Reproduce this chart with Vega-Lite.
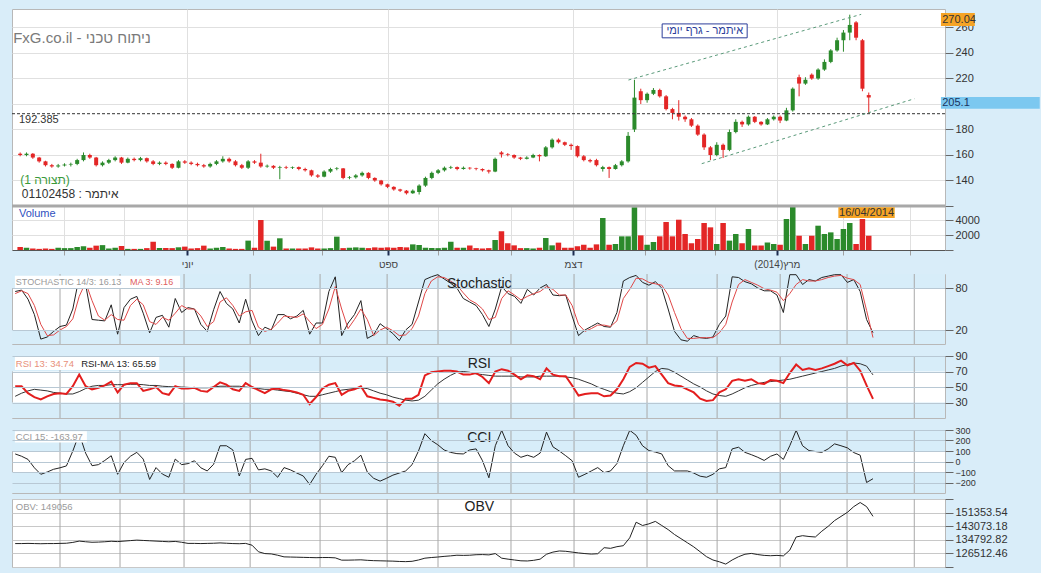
{
"$schema":"https://vega.github.io/schema/vega-lite/v6.json",
"background":"#d9edf9",
"padding":{"left":10,"top":8,"right":0,"bottom":0},
"config":{"font":"Liberation Sans","view":{"stroke":"#b8b8b8","fill":"white"},
"axis":{"labelFont":"Liberation Sans","labelFontSize":11,"labelColor":"#333","tickColor":"#666","tickSize":8,"labelPadding":2,"domain":false,"title":null,"gridColor":"#e0e0e0","labelOverlap":false,"labelFlush":false,"labelBound":false}},
"datasets":{
"mo":[{"d":15},{"d":33.75},{"d":53.75},{"d":74.4},{"d":96.25},{"d":117.2},{"d":133.1},{"d":155.9},{"d":175.6},{"d":198.4},{"d":220.3},{"d":240},{"d":260.9},{"d":281.9}],
"tr":[{"g":"u","d":193.1,"p":218.8},{"g":"u","d":266.6,"p":270.3},{"g":"l","d":216.25,"p":153.2},{"g":"l","d":283.4,"p":204.1}],
"m":[
{"d":1,"o":161,"h":162,"l":159,"c":160,"v":400,"k":75,"kd":72,"rsi":51,"rm":38,"cci":72,"obv":132500},
{"d":3,"o":160,"h":162,"l":159,"c":161,"v":300,"k":77,"kd":76,"rsi":51,"rm":42,"cci":50,"obv":132500},
{"d":5,"o":161,"h":161.5,"l":157,"c":158,"v":200,"k":64,"kd":72,"rsi":42,"rm":45,"cci":20,"obv":132600},
{"d":7,"o":158,"h":158.5,"l":154,"c":155,"v":150,"k":42,"kd":55,"rsi":37,"rm":47,"cci":-60,"obv":132500},
{"d":9,"o":155,"h":155.5,"l":151,"c":152,"v":200,"k":7,"kd":28,"rsi":34,"rm":46,"cci":-122,"obv":132400},
{"d":11,"o":152,"h":153,"l":150,"c":151,"v":150,"k":10,"kd":12,"rsi":38,"rm":45,"cci":-100,"obv":132500},
{"d":13,"o":151,"h":153,"l":150,"c":151.8,"v":300,"k":18,"kd":13,"rsi":41,"rm":43,"cci":-74,"obv":132500},
{"d":15,"o":151.8,"h":153.5,"l":151,"c":152.5,"v":250,"k":25,"kd":20,"rsi":42,"rm":42,"cci":-60,"obv":132600},
{"d":17,"o":152.5,"h":154,"l":151,"c":153,"v":250,"k":27,"kd":25,"rsi":41,"rm":41,"cci":-42,"obv":132700},
{"d":19,"o":153,"h":157,"l":152,"c":156,"v":400,"k":50,"kd":36,"rsi":51,"rm":41,"cci":100,"obv":133200},
{"d":21,"o":156,"h":162,"l":155,"c":160,"v":500,"k":96,"kd":68,"rsi":66,"rm":44,"cci":265,"obv":134000},
{"d":23,"o":160,"h":161,"l":157,"c":158,"v":300,"k":85,"kd":88,"rsi":51,"rm":48,"cci":80,"obv":133600},
{"d":25,"o":158,"h":158.5,"l":151,"c":152,"v":580,"k":35,"kd":62,"rsi":47,"rm":51,"cci":-40,"obv":133300},
{"d":27,"o":152,"h":155,"l":151,"c":154,"v":650,"k":34,"kd":40,"rsi":49,"rm":52,"cci":-30,"obv":133400},
{"d":29,"o":154,"h":157,"l":153,"c":156,"v":200,"k":33,"kd":34,"rsi":52,"rm":52,"cci":10,"obv":133600},
{"d":31,"o":156,"h":159,"l":155,"c":158,"v":300,"k":56,"kd":42,"rsi":57,"rm":53,"cci":55,"obv":133900},
{"d":33,"o":158,"h":158.5,"l":153,"c":154,"v":530,"k":14,"kd":35,"rsi":43,"rm":53,"cci":-122,"obv":133700},
{"d":35,"o":154,"h":158,"l":153.5,"c":157,"v":150,"k":52,"kd":34,"rsi":53,"rm":53,"cci":-10,"obv":134000},
{"d":37,"o":157,"h":158,"l":155,"c":156,"v":150,"k":64,"kd":55,"rsi":55,"rm":53.5,"cci":50,"obv":134300},
{"d":39,"o":156,"h":158.5,"l":155,"c":157.5,"v":150,"k":68,"kd":64,"rsi":55,"rm":53.5,"cci":87,"obv":134600},
{"d":41,"o":157.5,"h":158,"l":154,"c":155,"v":250,"k":44,"kd":56,"rsi":45,"rm":53,"cci":23,"obv":134400},
{"d":43,"o":155,"h":156,"l":152,"c":153,"v":1100,"k":16,"kd":32,"rsi":47,"rm":52,"cci":-171,"obv":134200},
{"d":45,"o":153,"h":155,"l":152,"c":154,"v":270,"k":38,"kd":28,"rsi":50,"rm":52,"cci":-58,"obv":134000},
{"d":47,"o":154,"h":155,"l":152,"c":153,"v":270,"k":41,"kd":38,"rsi":42,"rm":51,"cci":-120,"obv":133800},
{"d":49,"o":153,"h":153.5,"l":149,"c":150,"v":250,"k":24,"kd":34,"rsi":40,"rm":50.5,"cci":-150,"obv":133600},
{"d":51,"o":150,"h":156,"l":149.5,"c":155,"v":360,"k":65,"kd":44,"rsi":51,"rm":50,"cci":23,"obv":133800},
{"d":53,"o":155,"h":156,"l":153,"c":154,"v":450,"k":45,"kd":55,"rsi":48,"rm":50,"cci":-30,"obv":133300},
{"d":55,"o":154,"h":155,"l":152,"c":153,"v":200,"k":52,"kd":50,"rsi":48,"rm":49.5,"cci":-20,"obv":132600},
{"d":57,"o":153,"h":154,"l":151,"c":152,"v":250,"k":50,"kd":50,"rsi":49,"rm":49,"cci":7,"obv":132600},
{"d":59,"o":152,"h":153,"l":150,"c":151,"v":580,"k":28,"kd":40,"rsi":45,"rm":49,"cci":-60,"obv":132500},
{"d":61,"o":151,"h":154,"l":150,"c":153,"v":200,"k":18,"kd":25,"rsi":44,"rm":49,"cci":-90,"obv":132600},
{"d":63,"o":153,"h":156,"l":152,"c":155,"v":300,"k":49,"kd":32,"rsi":50,"rm":50,"cci":-26,"obv":132700},
{"d":65,"o":155,"h":159,"l":154,"c":157,"v":400,"k":75,"kd":60,"rsi":56,"rm":51,"cci":150,"obv":132900},
{"d":67,"o":157,"h":158,"l":154,"c":155,"v":200,"k":58,"kd":66,"rsi":53,"rm":51,"cci":150,"obv":132700},
{"d":69,"o":155,"h":156,"l":151,"c":152,"v":150,"k":50,"kd":55,"rsi":47,"rm":51,"cci":110,"obv":132500},
{"d":71,"o":152,"h":153,"l":149,"c":150,"v":150,"k":30,"kd":40,"rsi":45,"rm":51,"cci":-138,"obv":132400},
{"d":73,"o":150,"h":156,"l":149,"c":155,"v":1250,"k":64,"kd":46,"rsi":55,"rm":50,"cci":20,"obv":132600},
{"d":75,"o":155,"h":156,"l":153,"c":154,"v":300,"k":33,"kd":48,"rsi":50,"rm":49,"cci":30,"obv":131500},
{"d":77,"o":154,"h":161,"l":150,"c":151,"v":4000,"k":12,"kd":24,"rsi":46,"rm":48,"cci":-80,"obv":127500},
{"d":79,"o":151,"h":152.5,"l":150,"c":151.5,"v":1250,"k":24,"kd":18,"rsi":42,"rm":47,"cci":-70,"obv":126400},
{"d":81,"o":151.5,"h":152,"l":149,"c":150,"v":450,"k":20,"kd":21,"rsi":47,"rm":47,"cci":-90,"obv":126200},
{"d":83,"o":150,"h":151.5,"l":141,"c":150.5,"v":1560,"k":42,"kd":30,"rsi":48,"rm":46,"cci":-150,"obv":125400},
{"d":85,"o":150.5,"h":151.5,"l":149,"c":150,"v":200,"k":42,"kd":40,"rsi":46,"rm":45,"cci":-58,"obv":124400},
{"d":87,"o":150,"h":151,"l":149,"c":150.5,"v":200,"k":36,"kd":39,"rsi":45,"rm":44,"cci":-80,"obv":124300},
{"d":89,"o":150.5,"h":151,"l":148,"c":149,"v":200,"k":40,"kd":38,"rsi":43,"rm":42,"cci":-110,"obv":124200},
{"d":91,"o":149,"h":150,"l":147,"c":148,"v":200,"k":48,"kd":43,"rsi":40,"rm":40,"cci":-138,"obv":124100},
{"d":93,"o":148,"h":148.5,"l":143,"c":144,"v":350,"k":14,"kd":32,"rsi":28,"rm":38,"cci":-219,"obv":124000},
{"d":95,"o":144,"h":145,"l":142,"c":143,"v":200,"k":30,"kd":22,"rsi":37,"rm":38,"cci":-122,"obv":123900},
{"d":97,"o":143,"h":148,"l":142.5,"c":147,"v":200,"k":30,"kd":28,"rsi":48,"rm":40,"cci":-40,"obv":124000},
{"d":99,"o":147,"h":150,"l":146,"c":149,"v":250,"k":75,"kd":50,"rsi":53,"rm":42,"cci":50,"obv":124000},
{"d":101,"o":149,"h":150.5,"l":148,"c":149.5,"v":1780,"k":96,"kd":82,"rsi":55,"rm":44,"cci":40,"obv":123800},
{"d":103,"o":149.5,"h":149.8,"l":141,"c":142,"v":250,"k":12,"kd":50,"rsi":40,"rm":46,"cci":-106,"obv":122400},
{"d":105,"o":142,"h":143.5,"l":141,"c":142.5,"v":300,"k":30,"kd":22,"rsi":45,"rm":47,"cci":-30,"obv":122400},
{"d":107,"o":142.5,"h":145,"l":141.5,"c":144,"v":350,"k":42,"kd":35,"rsi":47,"rm":48,"cci":7,"obv":122500},
{"d":109,"o":144,"h":147,"l":143,"c":146,"v":300,"k":62,"kd":50,"rsi":51,"rm":49,"cci":60,"obv":122600},
{"d":111,"o":146,"h":146.5,"l":141,"c":142,"v":250,"k":8,"kd":35,"rsi":38,"rm":48,"cci":-100,"obv":122300},
{"d":113,"o":142,"h":142.5,"l":139,"c":140,"v":350,"k":13,"kd":12,"rsi":36,"rm":45,"cci":-160,"obv":122100},
{"d":115,"o":140,"h":140.5,"l":136,"c":137,"v":300,"k":29,"kd":20,"rsi":34,"rm":42,"cci":-187,"obv":122000},
{"d":117,"o":137,"h":137.5,"l":134,"c":135,"v":350,"k":22,"kd":24,"rsi":33,"rm":40,"cci":-160,"obv":121900},
{"d":119,"o":135,"h":135.5,"l":132,"c":133,"v":300,"k":15,"kd":19,"rsi":31,"rm":37,"cci":-130,"obv":121800},
{"d":121,"o":133,"h":133.5,"l":131,"c":132,"v":400,"k":5,"kd":12,"rsi":26,"rm":35,"cci":-110,"obv":121600},
{"d":123,"o":132,"h":132.5,"l":129,"c":130,"v":350,"k":20,"kd":13,"rsi":35,"rm":33,"cci":-90,"obv":121500},
{"d":125,"o":130,"h":133,"l":129.5,"c":132,"v":750,"k":28,"kd":22,"rsi":35,"rm":32,"cci":-30,"obv":121700},
{"d":127,"o":131,"h":137,"l":129,"c":136,"v":670,"k":60,"kd":40,"rsi":40,"rm":33,"cci":100,"obv":122500},
{"d":129,"o":136,"h":143,"l":135,"c":142,"v":300,"k":92,"kd":72,"rsi":65,"rm":38,"cci":265,"obv":123600},
{"d":131,"o":142,"h":147,"l":141,"c":146,"v":270,"k":96,"kd":90,"rsi":69,"rm":46,"cci":200,"obv":124000},
{"d":133,"o":146,"h":149,"l":145,"c":148,"v":250,"k":99,"kd":96,"rsi":70,"rm":54,"cci":160,"obv":124300},
{"d":135,"o":148,"h":151,"l":147,"c":150,"v":300,"k":93,"kd":95,"rsi":71,"rm":60,"cci":110,"obv":124700},
{"d":137,"o":150,"h":151.5,"l":149,"c":150.5,"v":1100,"k":87,"kd":90,"rsi":71,"rm":65,"cci":87,"obv":125000},
{"d":139,"o":150.5,"h":151,"l":148,"c":149,"v":300,"k":80,"kd":84,"rsi":70,"rm":69,"cci":75,"obv":125400},
{"d":141,"o":149,"h":151,"l":148.5,"c":150,"v":300,"k":65,"kd":73,"rsi":66,"rm":70,"cci":72,"obv":125300},
{"d":143,"o":150,"h":150.5,"l":148.5,"c":149.5,"v":600,"k":60,"kd":63,"rsi":66,"rm":69,"cci":110,"obv":125400},
{"d":145,"o":149.5,"h":150,"l":148,"c":149,"v":250,"k":55,"kd":58,"rsi":68,"rm":67,"cci":120,"obv":125700},
{"d":147,"o":149,"h":149.5,"l":147,"c":148,"v":200,"k":42,"kd":50,"rsi":63,"rm":66,"cci":7,"obv":125800},
{"d":149,"o":148,"h":148.5,"l":145.5,"c":147,"v":250,"k":25,"kd":35,"rsi":55,"rm":65,"cci":-155,"obv":125600},
{"d":151,"o":147,"h":158,"l":146.5,"c":157,"v":1330,"k":50,"kd":38,"rsi":70,"rm":64,"cci":150,"obv":126400},
{"d":153,"o":162,"h":163,"l":158,"c":160.5,"v":2500,"k":82,"kd":65,"rsi":73,"rm":64,"cci":297,"obv":123600},
{"d":155,"o":160.5,"h":161.5,"l":159,"c":160,"v":900,"k":72,"kd":76,"rsi":71,"rm":64,"cci":150,"obv":123000},
{"d":157,"o":160,"h":160.5,"l":157,"c":158,"v":620,"k":68,"kd":70,"rsi":66,"rm":64,"cci":80,"obv":122500},
{"d":159,"o":158,"h":158.5,"l":156,"c":157,"v":250,"k":58,"kd":63,"rsi":60,"rm":63,"cci":40,"obv":122000},
{"d":161,"o":157,"h":159,"l":156.5,"c":158,"v":250,"k":78,"kd":68,"rsi":65,"rm":63,"cci":60,"obv":121900},
{"d":163,"o":158,"h":161,"l":157.5,"c":160,"v":200,"k":70,"kd":72,"rsi":64,"rm":63,"cci":40,"obv":122300},
{"d":165,"o":160,"h":160.5,"l":155,"c":159,"v":300,"k":80,"kd":75,"rsi":60,"rm":64,"cci":80,"obv":123000},
{"d":167,"o":159,"h":167,"l":158.5,"c":166,"v":1600,"k":85,"kd":82,"rsi":74,"rm":64,"cci":280,"obv":126000},
{"d":169,"o":166,"h":173,"l":165,"c":172,"v":620,"k":70,"kd":78,"rsi":66,"rm":64,"cci":140,"obv":127300},
{"d":171,"o":172,"h":173,"l":169,"c":170,"v":980,"k":69,"kd":70,"rsi":64,"rm":64,"cci":100,"obv":128000},
{"d":173,"o":170,"h":170.5,"l":167,"c":168,"v":300,"k":70,"kd":70,"rsi":64,"rm":63,"cci":55,"obv":127800},
{"d":175,"o":168,"h":169,"l":164,"c":167,"v":300,"k":40,"kd":55,"rsi":52,"rm":62,"cci":7,"obv":127300},
{"d":177,"o":167,"h":167.5,"l":158,"c":159,"v":500,"k":12,"kd":28,"rsi":39,"rm":60,"cci":-150,"obv":126800},
{"d":179,"o":159,"h":160,"l":155,"c":156,"v":700,"k":20,"kd":18,"rsi":41,"rm":57,"cci":-122,"obv":126400},
{"d":181,"o":156,"h":157,"l":154,"c":155,"v":300,"k":25,"kd":22,"rsi":42,"rm":54,"cci":-90,"obv":126100},
{"d":183,"o":156,"h":157,"l":151,"c":152,"v":750,"k":30,"kd":27,"rsi":42,"rm":50,"cci":-58,"obv":126300},
{"d":185,"o":149,"h":151.5,"l":147,"c":150.5,"v":4270,"k":25,"kd":27,"rsi":38,"rm":47,"cci":-106,"obv":130000},
{"d":187,"o":150.5,"h":151,"l":142,"c":149,"v":700,"k":24,"kd":25,"rsi":39,"rm":44,"cci":-90,"obv":129600},
{"d":189,"o":149,"h":153,"l":148.5,"c":152,"v":800,"k":45,"kd":33,"rsi":47,"rm":42,"cci":-20,"obv":130600},
{"d":191,"o":152,"h":156,"l":151,"c":155,"v":1820,"k":90,"kd":65,"rsi":60,"rm":41,"cci":150,"obv":131200},
{"d":193,"o":155,"h":178,"l":154,"c":175,"v":1820,"k":95,"kd":78,"rsi":76,"rm":44,"cci":297,"obv":136000},
{"d":195,"o":180,"h":219,"l":178,"c":205,"v":5700,"k":98,"kd":94,"rsi":81,"rm":49,"cci":250,"obv":145500},
{"d":197,"o":210,"h":212,"l":200,"c":203,"v":1950,"k":88,"kd":93,"rsi":80,"rm":56,"cci":150,"obv":143500},
{"d":199,"o":203,"h":209,"l":201,"c":208,"v":700,"k":84,"kd":88,"rsi":75,"rm":63,"cci":104,"obv":144500},
{"d":201,"o":208,"h":212.5,"l":207,"c":211,"v":1070,"k":89,"kd":86,"rsi":77,"rm":70,"cci":90,"obv":146000},
{"d":203,"o":211,"h":212,"l":205,"c":206,"v":1820,"k":80,"kd":84,"rsi":66,"rm":74,"cci":72,"obv":143500},
{"d":205,"o":206,"h":207,"l":195,"c":196,"v":3730,"k":50,"kd":70,"rsi":55,"rm":73,"cci":-40,"obv":141000},
{"d":207,"o":196,"h":197,"l":188,"c":193,"v":1820,"k":18,"kd":45,"rsi":52,"rm":69,"cci":-90,"obv":138000},
{"d":209,"o":193,"h":203,"l":187,"c":190,"v":4040,"k":6,"kd":22,"rsi":51,"rm":64,"cci":-90,"obv":135500},
{"d":211,"o":190,"h":191,"l":186,"c":188,"v":2130,"k":4,"kd":8,"rsi":47,"rm":59,"cci":-90,"obv":133000},
{"d":213,"o":188,"h":189,"l":182,"c":183,"v":900,"k":12,"kd":8,"rsi":43,"rm":54,"cci":-110,"obv":130500},
{"d":215,"o":183,"h":184,"l":175,"c":176,"v":1470,"k":9,"kd":9,"rsi":35,"rm":50,"cci":-140,"obv":127500},
{"d":217,"o":176,"h":177,"l":164,"c":166,"v":3600,"k":8,"kd":9,"rsi":32,"rm":45,"cci":-150,"obv":124500},
{"d":219,"o":166,"h":167,"l":156,"c":160,"v":3020,"k":10,"kd":9,"rsi":33,"rm":41,"cci":-122,"obv":122500},
{"d":221,"o":160,"h":170,"l":159,"c":168,"v":800,"k":28,"kd":16,"rsi":43,"rm":39,"cci":-70,"obv":121400},
{"d":223,"o":168,"h":169,"l":157.6,"c":164,"v":3600,"k":40,"kd":28,"rsi":47,"rm":38,"cci":-58,"obv":120000},
{"d":225,"o":164,"h":180,"l":163,"c":178,"v":1250,"k":96,"kd":60,"rsi":58,"rm":41,"cci":120,"obv":122500},
{"d":227,"o":178,"h":188,"l":177,"c":186,"v":2130,"k":95,"kd":85,"rsi":60,"rm":45,"cci":136,"obv":124500},
{"d":229,"o":186,"h":187,"l":182,"c":184,"v":900,"k":89,"kd":92,"rsi":58,"rm":49,"cci":87,"obv":126000},
{"d":231,"o":184,"h":191,"l":183,"c":190,"v":2800,"k":86,"kd":88,"rsi":60,"rm":52,"cci":65,"obv":126500},
{"d":233,"o":190,"h":190.5,"l":185,"c":186,"v":600,"k":80,"kd":84,"rsi":55,"rm":54,"cci":40,"obv":125800},
{"d":235,"o":186,"h":186.5,"l":183,"c":184,"v":600,"k":76,"kd":79,"rsi":54,"rm":56,"cci":10,"obv":125300},
{"d":237,"o":184,"h":189,"l":183.5,"c":188,"v":1000,"k":76,"kd":77,"rsi":59,"rm":57,"cci":50,"obv":125100},
{"d":239,"o":188,"h":191,"l":187,"c":190,"v":800,"k":70,"kd":74,"rsi":58,"rm":58,"cci":72,"obv":125300},
{"d":241,"o":190,"h":191,"l":185,"c":187,"v":700,"k":45,"kd":62,"rsi":55,"rm":59,"cci":20,"obv":125000},
{"d":243,"o":187,"h":197,"l":186.5,"c":195,"v":4130,"k":99,"kd":72,"rsi":68,"rm":60,"cci":150,"obv":128500},
{"d":245,"o":195,"h":213,"l":194,"c":212,"v":5780,"k":99,"kd":85,"rsi":79,"rm":62,"cci":297,"obv":136500},
{"d":247,"o":221,"h":223,"l":206,"c":216,"v":1900,"k":85,"kd":92,"rsi":72,"rm":64,"cci":150,"obv":137300},
{"d":249,"o":216,"h":221,"l":215,"c":219,"v":800,"k":92,"kd":90,"rsi":74,"rm":66,"cci":104,"obv":136800},
{"d":251,"o":223,"h":224,"l":219,"c":220,"v":1900,"k":90,"kd":90,"rsi":72,"rm":68,"cci":95,"obv":136500},
{"d":253,"o":220,"h":228,"l":219,"c":227,"v":3240,"k":95,"kd":92,"rsi":74,"rm":70,"cci":87,"obv":140000},
{"d":255,"o":227,"h":235,"l":226,"c":233,"v":2130,"k":97,"kd":95,"rsi":77,"rm":72,"cci":120,"obv":143000},
{"d":257,"o":233,"h":243,"l":232,"c":242,"v":2350,"k":99,"kd":97,"rsi":80,"rm":74,"cci":168,"obv":146500},
{"d":259,"o":242,"h":252,"l":241,"c":250,"v":1470,"k":99,"kd":98,"rsi":84,"rm":77,"cci":150,"obv":149000},
{"d":261,"o":250,"h":258,"l":241,"c":256,"v":2800,"k":88,"kd":94,"rsi":78,"rm":79,"cci":130,"obv":151500},
{"d":263,"o":256,"h":270.04,"l":250,"c":262,"v":3600,"k":92,"kd":92,"rsi":81,"rm":81,"cci":85,"obv":155000},
{"d":265,"o":264,"h":265,"l":250,"c":252,"v":800,"k":75,"kd":85,"rsi":71,"rm":80,"cci":60,"obv":157500},
{"d":267,"o":250,"h":251,"l":210,"c":212,"v":4130,"k":35,"kd":48,"rsi":52,"rm":77,"cci":-200,"obv":155000},
{"d":269,"o":207,"h":209,"l":192.4,"c":205.1,"v":1900,"k":16.13,"kd":9.16,"rsi":34.74,"rm":65.59,"cci":-163.97,"obv":149056}
]},
"spacing":0,"bounds":"flush",
"vconcat":[
{"width":933,"height":197,
"layer":[
{"data":{"name":"m"},"mark":{"type":"rule","strokeWidth":1},
"encoding":{"x":{"field":"d","type":"quantitative","scale":{"domain":[0,291.5],"nice":false,"zero":false},"axis":{"values":[53.75,117.2,175.6,240],"tickCount":30,"grid":true,"labels":false,"ticks":false,"domain":false}},
"y":{"field":"l","type":"quantitative","scale":{"domain":[120,274.5],"nice":false,"zero":false},"axis":{"orient":"right","values":[140,160,180,200,220,240,260],"tickCount":30,"grid":true,"labelExpr":"datum.value==200?'':datum.label"}},
"y2":{"field":"h"},
"color":{"condition":{"test":"datum.c >= datum.o","value":"#2b8a2b"},"value":"#e32626"}}},
{"data":{"name":"m"},"mark":{"type":"bar","size":4},
"encoding":{"x":{"field":"d","type":"quantitative"},"y":{"field":"o","type":"quantitative"},"y2":{"field":"c"},
"color":{"condition":{"test":"datum.c >= datum.o","value":"#2b8a2b"},"value":"#e32626"}}},
{"data":{"values":[{}]},"mark":{"type":"rule","color":"#333","strokeDash":[3,2],"strokeWidth":1},"encoding":{"y":{"datum":192.385,"type":"quantitative"}}},
{"data":{"name":"tr"},"mark":{"type":"line","color":"#5a9a7a","strokeDash":[3,3],"strokeWidth":1},
"encoding":{"x":{"field":"d","type":"quantitative"},"y":{"field":"p","type":"quantitative"},"detail":{"field":"g"}}},
{"data":{"values":[{}]},"mark":{"type":"text","align":"left","baseline":"middle","fontSize":15,"color":"#7a7a7a"},
"encoding":{"x":{"datum":-1.2,"type":"quantitative"},"y":{"datum":251.7,"type":"quantitative"},"text":{"value":"FxG.co.il - ניתוח טכני"}}},
{"data":{"values":[{}]},"mark":{"type":"text","align":"left","baseline":"middle","fontSize":11,"color":"#333"},
"encoding":{"x":{"datum":0.6,"type":"quantitative"},"y":{"datum":187.4,"type":"quantitative"},"text":{"value":"192.385"}}},
{"data":{"values":[{}]},"mark":{"type":"text","align":"left","baseline":"middle","fontSize":12,"color":"#3a9a3a"},
"encoding":{"x":{"datum":1,"type":"quantitative"},"y":{"datum":140.4,"type":"quantitative"},"text":{"value":"(1 תצורה)"}}},
{"data":{"values":[{}]},"mark":{"type":"text","align":"left","baseline":"middle","fontSize":12,"color":"#333"},
"encoding":{"x":{"datum":1.5,"type":"quantitative"},"y":{"datum":129.4,"type":"quantitative"},"text":{"value":"01102458 : איתמר"}}},
{"data":{"values":[{}]},"mark":{"type":"rect","fill":"white","stroke":"#2c3e9a","strokeWidth":1},
"encoding":{"x":{"datum":203.75,"type":"quantitative"},"x2":{"datum":230.6},"y":{"datum":262.8,"type":"quantitative"},"y2":{"datum":251.9}}},
{"data":{"values":[{}]},"mark":{"type":"text","align":"center","baseline":"middle","fontSize":11,"color":"#2c3e9a"},
"encoding":{"x":{"datum":217.2,"type":"quantitative"},"y":{"datum":257.4,"type":"quantitative"},"text":{"value":"איתמר - גרף יומי"}}},
{"data":{"values":[{}]},"mark":{"type":"rect","fill":"#f5a425"},
"encoding":{"x":{"datum":291.8,"type":"quantitative"},"x2":{"datum":302.5},"y":{"datum":271.3,"type":"quantitative"},"y2":{"datum":261.1}}},
{"data":{"values":[{}]},"mark":{"type":"text","align":"left","baseline":"middle","fontSize":11,"color":"#333"},
"encoding":{"x":{"datum":292.2,"type":"quantitative"},"y":{"datum":266.2,"type":"quantitative"},"text":{"value":"270.04"}}},
{"data":{"values":[{}]},"mark":{"type":"rect","fill":"#7cc8f0"},
"encoding":{"x":{"datum":291.8,"type":"quantitative"},"x2":{"datum":323},"y":{"datum":205.5,"type":"quantitative"},"y2":{"datum":196.2}}},
{"data":{"values":[{}]},"mark":{"type":"text","align":"left","baseline":"middle","fontSize":11,"color":"#1a3560"},
"encoding":{"x":{"datum":292.2,"type":"quantitative"},"y":{"datum":200.8,"type":"quantitative"},"text":{"value":"205.1"}}}
]},
{"width":933,"height":44,
"layer":[
{"data":{"name":"m"},"mark":{"type":"bar","size":5.5},
"encoding":{"x":{"field":"d","type":"quantitative","scale":{"domain":[0,291.5],"nice":false,"zero":false},
"axis":{"orient":"bottom","values":[15,33.75,53.75,74.4,96.25,117.2,133.1,155.9,175.6,198.4,220.3,240,260.9,281.9],"tickCount":30,
"labelExpr":"datum.value==53.75?'יוני':datum.value==117.2?'ספט':datum.value==175.6?'דצמ':datum.value==240?'(2014)מרץ':''",
"tickSize":5,"tickColor":{"condition":{"test":"datum.value==53.75||datum.value==117.2||datum.value==175.6||datum.value==240","value":"#1c2c50"},"value":"#a0a0a0"},
"tickWidth":{"condition":{"test":"datum.value==53.75||datum.value==117.2||datum.value==175.6||datum.value==240","value":2},"value":1},
"domain":true,"domainColor":"#555","labelPadding":4,"labelFontSize":10,"labelColor":"#444"}},
"y":{"field":"v","type":"quantitative","scale":{"domain":[0,5867],"nice":false},"axis":{"orient":"right","values":[0,2000,4000,5867],"tickCount":30,"labelExpr":"datum.value==2000||datum.value==4000?format(datum.value,'d'):''","grid":true}},
"color":{"condition":{"test":"datum.c >= datum.o","value":"#2b8a2b"},"value":"#e32626"}}},
{"data":{"values":[{}]},"mark":{"type":"rule","color":"#a8a8a8","strokeWidth":3},"encoding":{"y":{"datum":5867,"type":"quantitative"}}},
{"data":{"values":[{}]},"mark":{"type":"text","align":"left","baseline":"middle","fontSize":11,"color":"#3050c0"},
"encoding":{"x":{"datum":0.6,"type":"quantitative"},"y":{"datum":4800,"type":"quantitative"},"text":{"value":"Volume"}}},
{"data":{"values":[{}]},"mark":{"type":"rect","fill":"#f5a425"},
"encoding":{"x":{"datum":259.4,"type":"quantitative"},"x2":{"datum":277.2},"y":{"datum":5700,"type":"quantitative"},"y2":{"datum":4267}}},
{"data":{"values":[{}]},"mark":{"type":"text","align":"center","baseline":"middle","fontSize":11,"color":"#333"},
"encoding":{"x":{"datum":268.3,"type":"quantitative"},"y":{"datum":5000,"type":"quantitative"},"text":{"value":"16/04/2014"}}}
]},
{"width":933,"height":24,"view":{"stroke":null,"fill":null},"data":{"values":[{}]},"mark":{"type":"text"},"encoding":{"text":{"value":""}}},
{"width":933,"height":70,
"layer":[
{"data":{"values":[{}]},"mark":{"type":"rect","fill":"#d7edf9"},"encoding":{"y":{"datum":80,"type":"quantitative","scale":{"domain":[0,100],"nice":false}},"y2":{"datum":100}}},
{"data":{"values":[{}]},"mark":{"type":"rect","fill":"#d7edf9"},"encoding":{"y":{"datum":0,"type":"quantitative"},"y2":{"datum":20}}},
{"data":{"name":"mo"},"mark":{"type":"rule","color":"#a8a8a8","strokeWidth":1},"encoding":{"x":{"field":"d","type":"quantitative","scale":{"domain":[0,291.5],"nice":false,"zero":false},"axis":null}}},
{"data":{"name":"m"},"mark":{"type":"line","color":"#222","strokeWidth":1},
"encoding":{"x":{"field":"d","type":"quantitative"},"y":{"field":"k","type":"quantitative","axis":{"orient":"right","values":[20,80],"tickCount":30,"grid":true,"gridColor":"#b8c8d4","zindex":1}}}},
{"data":{"name":"m"},"mark":{"type":"line","color":"#e04848","strokeWidth":1},
"encoding":{"x":{"field":"d","type":"quantitative"},"y":{"field":"kd","type":"quantitative"}}},
{"data":{"values":[{}]},"mark":{"type":"rect","fill":"white"},
"encoding":{"x":{"datum":0.9,"type":"quantitative"},"x2":{"datum":52.5},"y":{"datum":97.5,"type":"quantitative"},"y2":{"datum":78.5}}},
{"data":{"values":[{}]},"mark":{"type":"text","align":"left","baseline":"middle","fontSize":9,"color":"#9a9a9a"},
"encoding":{"x":{"datum":1.2,"type":"quantitative"},"y":{"datum":88,"type":"quantitative"},"text":{"value":"STOCHASTIC 14/3: 16.13"}}},
{"data":{"values":[{}]},"mark":{"type":"text","align":"left","baseline":"middle","fontSize":9,"color":"#e06060"},
"encoding":{"x":{"datum":36.9,"type":"quantitative"},"y":{"datum":88,"type":"quantitative"},"text":{"value":"MA 3: 9.16"}}},
{"data":{"values":[{}]},"mark":{"type":"text","align":"center","baseline":"middle","fontSize":14,"color":"#222"},
"encoding":{"x":{"datum":146,"type":"quantitative"},"y":{"datum":85.8,"type":"quantitative"},"text":{"value":"Stochastic"}}}
]},
{"width":933,"height":12,"view":{"stroke":null,"fill":null},"data":{"values":[{}]},"mark":{"type":"text"},"encoding":{"text":{"value":""}}},
{"width":933,"height":62,
"layer":[
{"data":{"values":[{}]},"mark":{"type":"rect","fill":"#d7edf9"},"encoding":{"y":{"datum":70,"type":"quantitative","scale":{"domain":[10,90],"nice":false,"zero":false}},"y2":{"datum":90}}},
{"data":{"values":[{}]},"mark":{"type":"rect","fill":"#d7edf9"},"encoding":{"y":{"datum":10,"type":"quantitative"},"y2":{"datum":30}}},
{"data":{"name":"mo"},"mark":{"type":"rule","color":"#a8a8a8","strokeWidth":1},"encoding":{"x":{"field":"d","type":"quantitative","scale":{"domain":[0,291.5],"nice":false,"zero":false},"axis":null}}},
{"data":{"name":"m"},"mark":{"type":"line","color":"#333","strokeWidth":1},
"encoding":{"x":{"field":"d","type":"quantitative"},"y":{"field":"rm","type":"quantitative","axis":{"orient":"right","values":[30,50,70,90],"tickCount":30,"grid":true,"gridColor":"#b8c8d4","zindex":1}}}},
{"data":{"name":"m"},"mark":{"type":"line","color":"#e31e1e","strokeWidth":2},
"encoding":{"x":{"field":"d","type":"quantitative"},"y":{"field":"rsi","type":"quantitative"}}},
{"data":{"values":[{}]},"mark":{"type":"rect","fill":"white"},
"encoding":{"x":{"datum":0.9,"type":"quantitative"},"x2":{"datum":46},"y":{"datum":88.7,"type":"quantitative"},"y2":{"datum":71.9}}},
{"data":{"values":[{}]},"mark":{"type":"text","align":"left","baseline":"middle","fontSize":9.5,"color":"#e8907a"},
"encoding":{"x":{"datum":1.2,"type":"quantitative"},"y":{"datum":80.3,"type":"quantitative"},"text":{"value":"RSI 13: 34.74"}}},
{"data":{"values":[{}]},"mark":{"type":"text","align":"left","baseline":"middle","fontSize":9.5,"color":"#222"},
"encoding":{"x":{"datum":21.6,"type":"quantitative"},"y":{"datum":80.3,"type":"quantitative"},"text":{"value":"RSI-MA 13: 65.59"}}},
{"data":{"values":[{}]},"mark":{"type":"text","align":"center","baseline":"middle","fontSize":14,"color":"#222"},
"encoding":{"x":{"datum":146,"type":"quantitative"},"y":{"datum":79.7,"type":"quantitative"},"text":{"value":"RSI"}}}
]},
{"width":933,"height":12,"view":{"stroke":null,"fill":null},"data":{"values":[{}]},"mark":{"type":"text"},"encoding":{"text":{"value":""}}},
{"width":933,"height":63,
"layer":[
{"data":{"values":[{}]},"mark":{"type":"rect","fill":"#d7edf9"},"encoding":{"y":{"datum":100,"type":"quantitative","scale":{"domain":[-300,300],"nice":false}},"y2":{"datum":300}}},
{"data":{"values":[{}]},"mark":{"type":"rect","fill":"#d7edf9"},"encoding":{"y":{"datum":-300,"type":"quantitative"},"y2":{"datum":-100}}},
{"data":{"name":"mo"},"mark":{"type":"rule","color":"#a8a8a8","strokeWidth":1},"encoding":{"x":{"field":"d","type":"quantitative","scale":{"domain":[0,291.5],"nice":false,"zero":false},"axis":null}}},
{"data":{"name":"m"},"mark":{"type":"line","color":"#222","strokeWidth":1,"clip":true},
"encoding":{"x":{"field":"d","type":"quantitative"},"y":{"field":"cci","type":"quantitative","axis":{"orient":"right","values":[-200,-100,0,100,200,300],"tickCount":30,"labelFontSize":9,"grid":true,"gridColor":"#b8c8d4","zindex":1}}}},
{"data":{"values":[{}]},"mark":{"type":"rect","fill":"white"},
"encoding":{"x":{"datum":0.9,"type":"quantitative"},"x2":{"datum":23.4},"y":{"datum":287,"type":"quantitative"},"y2":{"datum":181}}},
{"data":{"values":[{}]},"mark":{"type":"text","align":"left","baseline":"middle","fontSize":9.5,"color":"#9a9a9a"},
"encoding":{"x":{"datum":1.2,"type":"quantitative"},"y":{"datum":234,"type":"quantitative"},"text":{"value":"CCI 15: -163.97"}}},
{"data":{"values":[{}]},"mark":{"type":"text","align":"center","baseline":"middle","fontSize":14,"color":"#222"},
"encoding":{"x":{"datum":146,"type":"quantitative"},"y":{"datum":220,"type":"quantitative"},"text":{"value":"CCI"}}}
]},
{"width":933,"height":6,"view":{"stroke":null,"fill":null},"data":{"values":[{}]},"mark":{"type":"text"},"encoding":{"text":{"value":""}}},
{"width":933,"height":68,
"layer":[
{"data":{"name":"mo"},"mark":{"type":"rule","color":"#a8a8a8","strokeWidth":1},"encoding":{"x":{"field":"d","type":"quantitative","scale":{"domain":[0,291.5],"nice":false,"zero":false},"axis":null}}},
{"data":{"name":"m"},"mark":{"type":"line","color":"#222","strokeWidth":1},
"encoding":{"x":{"field":"d","type":"quantitative"},"y":{"field":"obv","type":"quantitative","scale":{"domain":[118232.1,159633.9],"nice":false,"zero":false},
"axis":{"orient":"right","values":[118232.1,126512.46,134792.82,143073.18,151353.54,159633.9],"tickCount":30,"labelExpr":"datum.value>120000 && datum.value<159000 ? format(datum.value,'.2f') : ''","grid":true,"gridColor":"#c8c8c8"}}}},
{"data":{"values":[{}]},"mark":{"type":"text","align":"left","baseline":"middle","fontSize":9.5,"color":"#9a9a9a"},
"encoding":{"x":{"datum":1.2,"type":"quantitative"},"y":{"datum":154529,"type":"quantitative"},"text":{"value":"OBV: 149056"}}},
{"data":{"values":[{}]},"mark":{"type":"text","align":"center","baseline":"middle","fontSize":14,"color":"#222"},
"encoding":{"x":{"datum":146,"type":"quantitative"},"y":{"datum":154529,"type":"quantitative"},"text":{"value":"OBV"}}}
]}
]
}
